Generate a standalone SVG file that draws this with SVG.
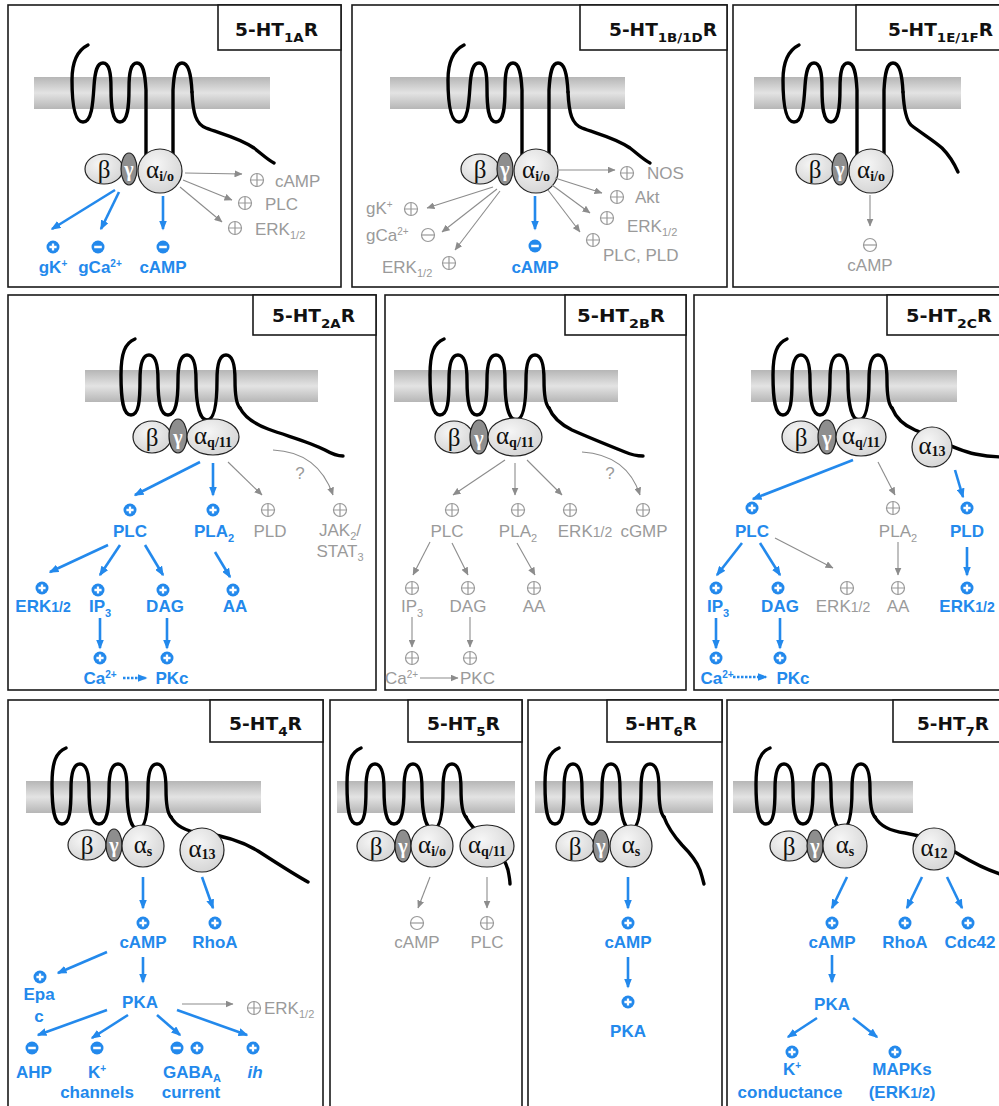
<svg xmlns="http://www.w3.org/2000/svg" xmlns:xlink="http://www.w3.org/1999/xlink" width="999" height="1106" viewBox="0 0 999 1106">
<style>
.frame{fill:#fff;stroke:#1a1a1a;stroke-width:1.6}
.tbox{fill:#fff;stroke:#1a1a1a;stroke-width:1.6}
.ttl{font-family:"DejaVu Sans","Liberation Sans",sans-serif;font-weight:bold;font-size:18px;fill:#111}
.tsub{font-size:13px}
.mem{fill:url(#memg)}
.rec{fill:none;stroke:#000;stroke-width:3.4;stroke-linecap:round;stroke-linejoin:round}
.beta{fill:url(#ballg);stroke:#222;stroke-width:1.2}
.gam{fill:#8e8e8e;stroke:#222;stroke-width:1.2}
.alp{fill:url(#ballg);stroke:#222;stroke-width:1.2}
.gk{font-family:"Liberation Serif",serif;font-size:25px;fill:#111;text-anchor:middle}
.gw{font-family:"Liberation Serif",serif;font-size:20px;fill:#fff;text-anchor:middle;font-weight:bold}
.gs{font-family:"Liberation Serif",serif;font-weight:bold;font-size:14px}
.ba{fill:none;stroke:#2389ec;stroke-width:2.6;marker-end:url(#ab)}
.ga{fill:none;stroke:#8c8c8c;stroke-width:1.1;marker-end:url(#ag)}
.bt{font-family:"Liberation Sans",Arial,sans-serif;font-weight:bold;font-size:17px;fill:#2389ec;text-anchor:middle}
.gt{font-family:"Liberation Sans",Arial,sans-serif;font-size:17px;fill:#9a9a9a}
.mid{text-anchor:middle}
.sb{font-size:11px}
.sp{font-size:10px}
.fr{font-size:14px}
</style>
<defs>
<linearGradient id="memg" x1="0" y1="0" x2="0" y2="1">
<stop offset="0" stop-color="#b6b6b6"/>
<stop offset="0.5" stop-color="#e3e3e3"/>
<stop offset="1" stop-color="#b6b6b6"/>
</linearGradient>
<radialGradient id="ballg" cx="0.4" cy="0.35" r="0.75">
<stop offset="0" stop-color="#f6f6f6"/>
<stop offset="1" stop-color="#d2d2d2"/>
</radialGradient>
<marker id="ab" viewBox="0 0 10 8" refX="8.5" refY="4" markerWidth="10" markerHeight="8" markerUnits="userSpaceOnUse" orient="auto">
<path d="M0,0 L10,4 L0,8 z" fill="#2389ec"/>
</marker>
<marker id="ag" viewBox="0 0 8 7" refX="7.5" refY="3.5" markerWidth="8" markerHeight="7" markerUnits="userSpaceOnUse" orient="auto">
<path d="M0,0 L8,3.5 L0,7 z" fill="#8c8c8c"/>
</marker>
<!-- effect icons: blue filled plus / minus, grey outlined plus / minus -->
<g id="bp"><circle r="6.5" fill="#2389ec"/><path d="M-3.6,0H3.6M0,-3.6V3.6" stroke="#fff" stroke-width="2.3"/></g>
<g id="bm"><circle r="6.5" fill="#2389ec"/><path d="M-3.8,0H3.8" stroke="#fff" stroke-width="2.5"/></g>
<g id="gp"><circle r="6.5" fill="none" stroke="#999" stroke-width="1.2"/><path d="M-6.5,0H6.5M0,-6.5V6.5" stroke="#999" stroke-width="1.2"/></g>
<g id="gm"><circle r="6.5" fill="none" stroke="#999" stroke-width="1.2"/><path d="M-6.5,0H6.5" stroke="#999" stroke-width="1.2"/></g>
<!-- seven-transmembrane receptor, long third intracellular loop -->
<path id="r1" d="M88,45 C78,50 72,62 72,80 C72,100 74,122 83,122 C92,122 93,102 94,86 C95,71 97,63 103,63 C109,63 111,72 111,88 C111,106 112,122 120,122 C128,122 129,106 129,88 C129,72 131,63 137,63 C143,63 145,72 146,90 L146,162 L173,162 L173,90 C174,72 176,63 182,63 C188,63 191,72 192,92"/>
<!-- seven-transmembrane receptor, short loops (origin = first leg, y = loop tops) -->
<path id="r2" d="M14,-16 C4,-12 0,-2 0,20 C0,45 2,60 10,60 C18,60 19,45 19,25 C19,8 22,0 28,0 C34,0 37,8 37,25 C37,45 39,60 47,60 C55,60 57,45 57,25 C57,8 60,0 66,0 C72,0 75,8 75,25 C75,47 78,65 86,65 C94,65 96,47 96,25 C96,8 99,0 105,0 C111,0 114,8 114,25 C114,40 116,50 119,53"/>
</defs>

<rect width="999" height="1106" fill="#fff"/>

<!-- ===== 5-HT1A ===== -->
<g id="p-1a">
<rect class="frame" x="8" y="5" width="333" height="282"/>
<rect class="tbox" x="218" y="5" width="123" height="45"/>
<text class="ttl" x="235" y="36" textLength="83" lengthAdjust="spacingAndGlyphs">5-HT<tspan class="tsub" dy="6">1A</tspan><tspan dy="-6">R</tspan></text>
<rect class="mem" x="34" y="77" width="236" height="32"/>
<use href="#r1" class="rec"/>
<path class="rec" d="M192,92 C193,114 196,124 206,128 C222,134 240,138 254,148 C263,155 268,160 274,163"/>
<ellipse class="beta" cx="104" cy="169" rx="19" ry="15"/><text class="gk" x="104" y="178">β</text>
<ellipse class="gam" cx="129" cy="169" rx="8" ry="16"/><text class="gw" x="129" y="176">γ</text>
<circle class="alp" cx="160" cy="171" r="22"/><text class="gk" x="160" y="178">α<tspan class="gs" dy="3">i/o</tspan></text>
</g>

<!-- ===== 5-HT1B/1D ===== -->
<g id="p-1b1d">
<rect class="frame" x="352" y="5" width="375" height="282"/>
<rect class="tbox" x="580" y="5" width="147" height="45"/>
<text class="ttl" x="609" y="36" textLength="108" lengthAdjust="spacingAndGlyphs">5-HT<tspan class="tsub" dy="6">1B/1D</tspan><tspan dy="-6">R</tspan></text>
<rect class="mem" x="390" y="77" width="235" height="32"/>
<g transform="translate(376,0)">
<use href="#r1" class="rec"/>
<path class="rec" d="M192,92 C193,114 196,124 206,128 C222,134 240,138 254,148 C263,155 268,160 274,163"/>
<ellipse class="beta" cx="104" cy="169" rx="19" ry="15"/><text class="gk" x="104" y="178">β</text>
<ellipse class="gam" cx="129" cy="169" rx="8" ry="16"/><text class="gw" x="129" y="176">γ</text>
<circle class="alp" cx="160" cy="171" r="22"/><text class="gk" x="160" y="178">α<tspan class="gs" dy="3">i/o</tspan></text>
</g>
</g>

<!-- ===== 5-HT1E/1F ===== -->
<g id="p-1e1f">
<rect class="frame" x="733" y="5" width="280" height="282"/>
<rect class="tbox" x="856" y="5" width="157" height="45"/>
<text class="ttl" x="888" y="36" textLength="105" lengthAdjust="spacingAndGlyphs">5-HT<tspan class="tsub" dy="6">1E/1F</tspan><tspan dy="-6">R</tspan></text>
<rect class="mem" x="754" y="77" width="207" height="32"/>
<g transform="translate(711,0)">
<use href="#r1" class="rec"/>
<path class="rec" d="M192,92 C193,110 195,120 200,125 C210,133 222,140 231,148 C238,155 243,163 247,172"/>
<ellipse class="beta" cx="104" cy="169" rx="19" ry="15"/><text class="gk" x="104" y="178">β</text>
<ellipse class="gam" cx="129" cy="169" rx="8" ry="16"/><text class="gw" x="129" y="176">γ</text>
<circle class="alp" cx="160" cy="171" r="22"/><text class="gk" x="160" y="178">α<tspan class="gs" dy="3">i/o</tspan></text>
</g>
</g>

<!-- ===== 5-HT2A ===== -->
<g id="p-2a">
<rect class="frame" x="8" y="295" width="368" height="395"/>
<rect class="tbox" x="253" y="295" width="123" height="40"/>
<text class="ttl" x="272" y="322" textLength="83" lengthAdjust="spacingAndGlyphs">5-HT<tspan class="tsub" dy="6">2A</tspan><tspan dy="-6">R</tspan></text>
<rect class="mem" x="85" y="370" width="233" height="32"/>
<use href="#r2" class="rec" transform="translate(121,355)"/>
<path class="rec" d="M240,408 C245,418 255,424 268,429 C290,437 310,442 325,450 C332,454 337,456 343,456"/>
<ellipse class="beta" cx="152" cy="437" rx="19" ry="16"/><text class="gk" x="152" y="446">β</text>
<ellipse class="gam" cx="178" cy="436" rx="9" ry="17"/><text class="gw" x="178" y="444">γ</text>
<ellipse class="alp" cx="213" cy="437" rx="26" ry="18"/><text class="gk" x="213" y="444">α<tspan class="gs" dy="3">q/11</tspan></text>
</g>

<!-- ===== 5-HT2B ===== -->
<g id="p-2b">
<rect class="frame" x="385" y="295" width="301" height="395"/>
<rect class="tbox" x="565" y="295" width="121" height="40"/>
<text class="ttl" x="577" y="322" textLength="88" lengthAdjust="spacingAndGlyphs">5-HT<tspan class="tsub" dy="6">2B</tspan><tspan dy="-6">R</tspan></text>
<rect class="mem" x="394" y="370" width="224" height="32"/>
<use href="#r2" class="rec" transform="translate(430,355)"/>
<path class="rec" d="M549,408 C553,418 560,424 572,430 C590,438 610,446 625,452 C632,455 638,456 643,456"/>
<ellipse class="beta" cx="454" cy="437" rx="19" ry="16"/><text class="gk" x="454" y="446">β</text>
<ellipse class="gam" cx="479" cy="437" rx="9" ry="17"/><text class="gw" x="479" y="445">γ</text>
<ellipse class="alp" cx="515" cy="437" rx="27" ry="19"/><text class="gk" x="515" y="444">α<tspan class="gs" dy="3">q/11</tspan></text>
</g>

<!-- ===== 5-HT2C ===== -->
<g id="p-2c">
<rect class="frame" x="694" y="295" width="320" height="395"/>
<rect class="tbox" x="887" y="295" width="127" height="40"/>
<text class="ttl" x="906" y="322" textLength="86" lengthAdjust="spacingAndGlyphs">5-HT<tspan class="tsub" dy="6">2C</tspan><tspan dy="-6">R</tspan></text>
<rect class="mem" x="751" y="370" width="206" height="32"/>
<use href="#r2" class="rec" transform="translate(773,355)"/>
<path class="rec" d="M892,408 C896,418 903,425 915,430 C935,438 955,450 975,454 C990,457 998,457 1005,457"/>
<ellipse class="beta" cx="801" cy="437" rx="19" ry="16"/><text class="gk" x="801" y="446">β</text>
<ellipse class="gam" cx="827" cy="437" rx="9" ry="17"/><text class="gw" x="827" y="445">γ</text>
<ellipse class="alp" cx="861" cy="437" rx="25" ry="19"/><text class="gk" x="861" y="444">α<tspan class="gs" dy="3">q/11</tspan></text>
<circle class="alp" cx="932" cy="447" r="20"/><text class="gk" x="932" y="454">α<tspan class="gs" dy="2">13</tspan></text>
</g>

<!-- ===== 5-HT4 ===== -->
<g id="p-4">
<rect class="frame" x="8" y="700" width="315" height="412"/>
<rect class="tbox" x="210" y="700" width="113" height="42"/>
<text class="ttl" x="229" y="730" textLength="73" lengthAdjust="spacingAndGlyphs">5-HT<tspan class="tsub" dy="6">4</tspan><tspan dy="-6">R</tspan></text>
<rect class="mem" x="26" y="781" width="235" height="32"/>
<use href="#r2" class="rec" transform="translate(52,764)"/>
<path class="rec" d="M171,817 C176,826 185,831 200,833 C220,835 240,840 258,851 C275,862 295,875 308,882"/>
<ellipse class="beta" cx="87" cy="845" rx="19" ry="15"/><text class="gk" x="87" y="854">β</text>
<ellipse class="gam" cx="114" cy="845" rx="8" ry="16"/><text class="gw" x="114" y="852">γ</text>
<circle class="alp" cx="143" cy="846" r="21"/><text class="gk" x="143" y="853">α<tspan class="gs" dy="3">s</tspan></text>
<circle class="alp" cx="202" cy="850" r="22"/><text class="gk" x="202" y="857">α<tspan class="gs" dy="2">13</tspan></text>
</g>

<!-- ===== 5-HT5 ===== -->
<g id="p-5">
<rect class="frame" x="330" y="700" width="192" height="412"/>
<rect class="tbox" x="408" y="700" width="114" height="42"/>
<text class="ttl" x="427" y="730" textLength="73" lengthAdjust="spacingAndGlyphs">5-HT<tspan class="tsub" dy="6">5</tspan><tspan dy="-6">R</tspan></text>
<rect class="mem" x="337" y="781" width="178" height="32"/>
<use href="#r2" class="rec" transform="translate(347,764)"/>
<path class="rec" d="M466,817 C470,826 480,835 492,845 C500,853 506,862 508,870 C509,875 510,880 510,884"/>
<ellipse class="beta" cx="376" cy="846" rx="19" ry="15"/><text class="gk" x="376" y="855">β</text>
<ellipse class="gam" cx="403" cy="846" rx="8" ry="16"/><text class="gw" x="403" y="853">γ</text>
<circle class="alp" cx="432" cy="846" r="21"/><text class="gk" x="432" y="853">α<tspan class="gs" dy="3">i/o</tspan></text>
<ellipse class="alp" cx="487" cy="846" rx="27" ry="21"/><text class="gk" x="487" y="853">α<tspan class="gs" dy="3">q/11</tspan></text>
</g>

<!-- ===== 5-HT6 ===== -->
<g id="p-6">
<rect class="frame" x="528" y="700" width="194" height="412"/>
<rect class="tbox" x="607" y="700" width="115" height="42"/>
<text class="ttl" x="625" y="730" textLength="72" lengthAdjust="spacingAndGlyphs">5-HT<tspan class="tsub" dy="6">6</tspan><tspan dy="-6">R</tspan></text>
<rect class="mem" x="535" y="781" width="178" height="32"/>
<use href="#r2" class="rec" transform="translate(545,764)"/>
<path class="rec" d="M664,817 C668,828 674,836 682,845 C690,853 697,862 700,870 C702,876 703,880 704,884"/>
<ellipse class="beta" cx="575" cy="846" rx="19" ry="15"/><text class="gk" x="575" y="855">β</text>
<ellipse class="gam" cx="601" cy="846" rx="8" ry="16"/><text class="gw" x="601" y="853">γ</text>
<circle class="alp" cx="631" cy="846" r="21"/><text class="gk" x="631" y="853">α<tspan class="gs" dy="3">s</tspan></text>
</g>

<!-- ===== 5-HT7 ===== -->
<g id="p-7">
<rect class="frame" x="727" y="700" width="290" height="412"/>
<rect class="tbox" x="893" y="700" width="124" height="42"/>
<text class="ttl" x="917" y="730" textLength="72" lengthAdjust="spacingAndGlyphs">5-HT<tspan class="tsub" dy="6">7</tspan><tspan dy="-6">R</tspan></text>
<rect class="mem" x="733" y="781" width="180" height="32"/>
<use href="#r2" class="rec" transform="translate(756,764)"/>
<path class="rec" d="M875,817 C880,826 890,831 905,833 C925,836 945,845 960,855 C975,864 988,870 1000,874"/>
<ellipse class="beta" cx="789" cy="846" rx="19" ry="15"/><text class="gk" x="789" y="855">β</text>
<ellipse class="gam" cx="815" cy="846" rx="8" ry="16"/><text class="gw" x="815" y="853">γ</text>
<circle class="alp" cx="845" cy="846" r="22"/><text class="gk" x="845" y="853">α<tspan class="gs" dy="3">s</tspan></text>
<circle class="alp" cx="934" cy="849" r="21"/><text class="gk" x="934" y="856">α<tspan class="gs" dy="2">12</tspan></text>
</g>

<!-- ===== signalling connectors ===== -->
<g id="connectors">
<!-- 1A -->
<line class="ga" x1="185" y1="173" x2="242" y2="174"/>
<line class="ga" x1="183" y1="180" x2="232" y2="200"/>
<line class="ga" x1="180" y1="187" x2="222" y2="222"/>
<line class="ba" x1="115" y1="190" x2="52" y2="229"/>
<line class="ba" x1="119" y1="192" x2="101" y2="229"/>
<line class="ba" x1="163" y1="196" x2="163" y2="229"/>
<!-- 1B/1D -->
<line class="ga" x1="557" y1="170" x2="615" y2="170"/>
<line class="ga" x1="555" y1="178" x2="602" y2="193"/>
<line class="ga" x1="552" y1="185" x2="590" y2="213"/>
<line class="ga" x1="548" y1="190" x2="580" y2="232"/>
<line class="ga" x1="493" y1="187" x2="427" y2="208"/>
<line class="ga" x1="497" y1="189" x2="442" y2="232"/>
<line class="ga" x1="500" y1="191" x2="455" y2="250"/>
<line class="ba" x1="535" y1="196" x2="535" y2="229"/>
<!-- 1E/1F -->
<line class="ga" x1="870" y1="195" x2="870" y2="226"/>
<!-- 2A -->
<line class="ba" x1="200" y1="462" x2="135" y2="495"/>
<line class="ba" x1="213" y1="463" x2="213" y2="495"/>
<line class="ga" x1="228" y1="462" x2="262" y2="495"/>
<path class="ga" d="M273,450 Q318,452 333,495"/>
<line class="ba" x1="108" y1="545" x2="50" y2="572"/>
<line class="ba" x1="120" y1="545" x2="100" y2="575"/>
<line class="ba" x1="145" y1="545" x2="163" y2="575"/>
<line class="ba" x1="215" y1="552" x2="230" y2="577"/>
<line class="ba" x1="100" y1="618" x2="100" y2="648"/>
<line class="ba" x1="167" y1="618" x2="167" y2="648"/>
<line class="ba" x1="123" y1="678" x2="146" y2="678" stroke-dasharray="2.5 1.5"/>
<!-- 2B -->
<line class="ga" x1="505" y1="460" x2="453" y2="495"/>
<line class="ga" x1="515" y1="463" x2="515" y2="495"/>
<line class="ga" x1="527" y1="460" x2="562" y2="495"/>
<path class="ga" d="M582,452 Q627,455 640,495"/>
<line class="ga" x1="430" y1="542" x2="413" y2="575"/>
<line class="ga" x1="452" y1="543" x2="468" y2="575"/>
<line class="ga" x1="517" y1="543" x2="535" y2="575"/>
<line class="ga" x1="412" y1="617" x2="412" y2="647"/>
<line class="ga" x1="470" y1="617" x2="470" y2="647"/>
<line class="ga" x1="420" y1="678" x2="458" y2="678"/>
<!-- 2C -->
<line class="ba" x1="853" y1="460" x2="753" y2="499"/>
<line class="ga" x1="878" y1="462" x2="895" y2="495"/>
<line class="ba" x1="955" y1="470" x2="963" y2="497"/>
<line class="ba" x1="742" y1="543" x2="717" y2="575"/>
<line class="ba" x1="760" y1="543" x2="780" y2="575"/>
<line class="ga" x1="775" y1="538" x2="833" y2="568"/>
<line class="ga" x1="898" y1="542" x2="898" y2="575"/>
<line class="ba" x1="967" y1="547" x2="967" y2="575"/>
<line class="ba" x1="716" y1="618" x2="716" y2="648"/>
<line class="ba" x1="780" y1="618" x2="780" y2="648"/>
<line class="ba" x1="733" y1="677" x2="766" y2="677" stroke-dasharray="2.5 1.5"/>
<!-- 4 -->
<line class="ba" x1="143" y1="877" x2="143" y2="908"/>
<line class="ba" x1="202" y1="877" x2="213" y2="908"/>
<line class="ba" x1="107" y1="952" x2="58" y2="973"/>
<line class="ba" x1="143" y1="957" x2="143" y2="982"/>
<line class="ga" x1="182" y1="1004" x2="233" y2="1004"/>
<line class="ba" x1="107" y1="1010" x2="38" y2="1035"/>
<line class="ba" x1="128" y1="1015" x2="92" y2="1038"/>
<line class="ba" x1="157" y1="1015" x2="180" y2="1035"/>
<line class="ba" x1="177" y1="1010" x2="247" y2="1035"/>
<!-- 5 -->
<line class="ga" x1="430" y1="877" x2="418" y2="908"/>
<line class="ga" x1="487" y1="877" x2="487" y2="908"/>
<!-- 6 -->
<line class="ba" x1="628" y1="877" x2="628" y2="908"/>
<line class="ba" x1="628" y1="957" x2="628" y2="987"/>
<!-- 7 -->
<line class="ba" x1="847" y1="877" x2="832" y2="908"/>
<line class="ba" x1="922" y1="877" x2="907" y2="908"/>
<line class="ba" x1="947" y1="877" x2="962" y2="908"/>
<line class="ba" x1="832" y1="955" x2="832" y2="982"/>
<line class="ba" x1="817" y1="1018" x2="788" y2="1037"/>
<line class="ba" x1="853" y1="1018" x2="877" y2="1037"/>
</g>

<!-- ===== effectors ===== -->
<g id="e-1a">
<use href="#gp" x="257" y="180"/><text class="gt" x="275" y="187">cAMP</text>
<use href="#gp" x="245" y="203"/><text class="gt" x="265" y="210">PLC</text>
<use href="#gp" x="235" y="228"/><text class="gt" x="255" y="235">ERK<tspan class="sb" dy="4">1/2</tspan></text>
<use href="#bp" x="53" y="247"/><text class="bt" x="53" y="273">gK<tspan class="sp" dy="-6">+</tspan></text>
<use href="#bm" x="98" y="247"/><text class="bt" x="100" y="273">gCa<tspan class="sp" dy="-6">2+</tspan></text>
<use href="#bm" x="163" y="247"/><text class="bt" x="163" y="273">cAMP</text>
</g>
<g id="e-1b1d">
<use href="#gp" x="627" y="173"/><text class="gt" x="647" y="179">NOS</text>
<use href="#gp" x="617" y="197"/><text class="gt" x="635" y="203">Akt</text>
<use href="#gp" x="607" y="218"/><text class="gt" x="627" y="232">ERK<tspan class="sb" dy="4">1/2</tspan></text>
<use href="#gp" x="593" y="240"/><text class="gt" x="603" y="261">PLC, PLD</text>
<text class="gt" x="366" y="214">gK<tspan class="sp" dy="-6">+</tspan></text><use href="#gp" x="411" y="209"/>
<text class="gt" x="366" y="241">gCa<tspan class="sp" dy="-6">2+</tspan></text><use href="#gm" x="428" y="235"/>
<text class="gt" x="382" y="273">ERK<tspan class="sb" dy="4">1/2</tspan></text><use href="#gp" x="449" y="263"/>
<use href="#bm" x="535" y="246"/><text class="bt" x="535" y="273">cAMP</text>
</g>
<g id="e-1e1f">
<use href="#gm" x="870" y="245"/><text class="gt mid" x="870" y="271">cAMP</text>
</g>
<g id="e-2a">
<use href="#bp" x="130" y="510"/><text class="bt" x="130" y="537">PLC</text>
<use href="#bp" x="213" y="510"/><text class="bt" x="214" y="537">PLA<tspan class="sb" dy="5">2</tspan></text>
<use href="#gp" x="268" y="510"/><text class="gt mid" x="270" y="537">PLD</text>
<text class="gt mid" x="300" y="479">?</text>
<use href="#gp" x="340" y="510"/><text class="gt mid" x="340" y="536">JAK<tspan class="sb" dy="4">2</tspan><tspan dy="-4">/</tspan></text>
<text class="gt mid" x="340" y="557">STAT<tspan class="sb" dy="4">3</tspan></text>
<use href="#bp" x="42" y="588"/><text class="bt" x="43" y="612">ERK<tspan class="fr">1/2</tspan></text>
<use href="#bp" x="98" y="590"/><text class="bt" x="100" y="612">IP<tspan class="sb" dy="5">3</tspan></text>
<use href="#bp" x="163" y="590"/><text class="bt" x="165" y="612">DAG</text>
<use href="#bp" x="233" y="590"/><text class="bt" x="235" y="612">AA</text>
<use href="#bp" x="100" y="658"/><text class="bt" x="100" y="684">Ca<tspan class="sp" dy="-6">2+</tspan></text>
<use href="#bp" x="167" y="658"/><text class="bt" x="172" y="684">PKc</text>
</g>
<g id="e-2b">
<use href="#gp" x="452" y="510"/><text class="gt mid" x="447" y="537">PLC</text>
<use href="#gp" x="518" y="510"/><text class="gt mid" x="518" y="537">PLA<tspan class="sb" dy="5">2</tspan></text>
<use href="#gp" x="570" y="510"/><text class="gt mid" x="585" y="537">ERK<tspan class="fr">1/2</tspan></text>
<text class="gt mid" x="610" y="479">?</text>
<use href="#gp" x="643" y="510"/><text class="gt mid" x="644" y="537">cGMP</text>
<use href="#gp" x="412" y="588"/><text class="gt mid" x="412" y="612">IP<tspan class="sb" dy="5">3</tspan></text>
<use href="#gp" x="468" y="588"/><text class="gt mid" x="468" y="612">DAG</text>
<use href="#gp" x="534" y="588"/><text class="gt mid" x="534" y="612">AA</text>
<use href="#gp" x="412" y="658"/><text class="gt" x="385" y="684">Ca<tspan class="sp" dy="-6">2+</tspan></text>
<use href="#gp" x="470" y="658"/><text class="gt" x="460" y="684">PKC</text>
</g>
<g id="e-2c">
<use href="#bp" x="752" y="508"/><text class="bt" x="752" y="537">PLC</text>
<use href="#gp" x="893" y="508"/><text class="gt mid" x="898" y="537">PLA<tspan class="sb" dy="5">2</tspan></text>
<use href="#bp" x="967" y="508"/><text class="bt" x="967" y="537">PLD</text>
<use href="#bp" x="716" y="588"/><text class="bt" x="718" y="612">IP<tspan class="sb" dy="5">3</tspan></text>
<use href="#bp" x="778" y="588"/><text class="bt" x="780" y="612">DAG</text>
<use href="#gp" x="847" y="588"/><text class="gt mid" x="843" y="612">ERK<tspan class="fr">1/2</tspan></text>
<use href="#gp" x="898" y="588"/><text class="gt mid" x="898" y="612">AA</text>
<use href="#bp" x="967" y="588"/><text class="bt" x="967" y="612">ERK<tspan class="fr">1/2</tspan></text>
<use href="#bp" x="716" y="658"/><text class="bt" x="717" y="684">Ca<tspan class="sp" dy="-6">2+</tspan></text>
<use href="#bp" x="780" y="658"/><text class="bt" x="793" y="684">PKc</text>
</g>
<g id="e-4">
<use href="#bp" x="143" y="923"/><text class="bt" x="143" y="948">cAMP</text>
<use href="#bp" x="215" y="923"/><text class="bt" x="215" y="948">RhoA</text>
<use href="#bp" x="40" y="977"/><text class="bt" x="39" y="1000">Epa</text><text class="bt" x="39" y="1022">c</text>
<text class="bt" x="140" y="1008">PKA</text>
<use href="#gp" x="254" y="1008"/><text class="gt" x="264" y="1014">ERK<tspan class="sb" dy="4">1/2</tspan></text>
<use href="#bm" x="32" y="1048"/><text class="bt" x="34" y="1078">AHP</text>
<use href="#bm" x="97" y="1048"/><text class="bt" x="97" y="1078">K<tspan class="sp" dy="-6">+</tspan></text><text class="bt" x="97" y="1098">channels</text>
<use href="#bm" x="177" y="1048"/><use href="#bp" x="197" y="1048"/>
<text class="bt" x="192" y="1078">GABA<tspan class="sb" dy="4">A</tspan></text><text class="bt" x="191" y="1098">current</text>
<use href="#bp" x="253" y="1048"/><text class="bt" x="255" y="1078" font-style="italic">ih</text>
</g>
<g id="e-5">
<use href="#gm" x="417" y="923"/><text class="gt mid" x="417" y="948">cAMP</text>
<use href="#gp" x="487" y="923"/><text class="gt mid" x="487" y="948">PLC</text>
</g>
<g id="e-6">
<use href="#bp" x="628" y="923"/><text class="bt" x="628" y="948">cAMP</text>
<use href="#bp" x="628" y="1002"/><text class="bt" x="628" y="1037">PKA</text>
</g>
<g id="e-7">
<use href="#bp" x="832" y="923"/><text class="bt" x="832" y="948">cAMP</text>
<use href="#bp" x="905" y="923"/><text class="bt" x="905" y="948">RhoA</text>
<use href="#bp" x="968" y="923"/><text class="bt" x="970" y="948">Cdc42</text>
<text class="bt" x="832" y="1010">PKA</text>
<use href="#bp" x="792" y="1052"/><text class="bt" x="792" y="1075">K<tspan class="sp" dy="-6">+</tspan></text><text class="bt" x="790" y="1098">conductance</text>
<use href="#bp" x="895" y="1052"/><text class="bt" x="902" y="1075">MAPKs</text><text class="bt" x="902" y="1098">(ERK<tspan class="fr">1/2</tspan>)</text>
</g>
</svg>
